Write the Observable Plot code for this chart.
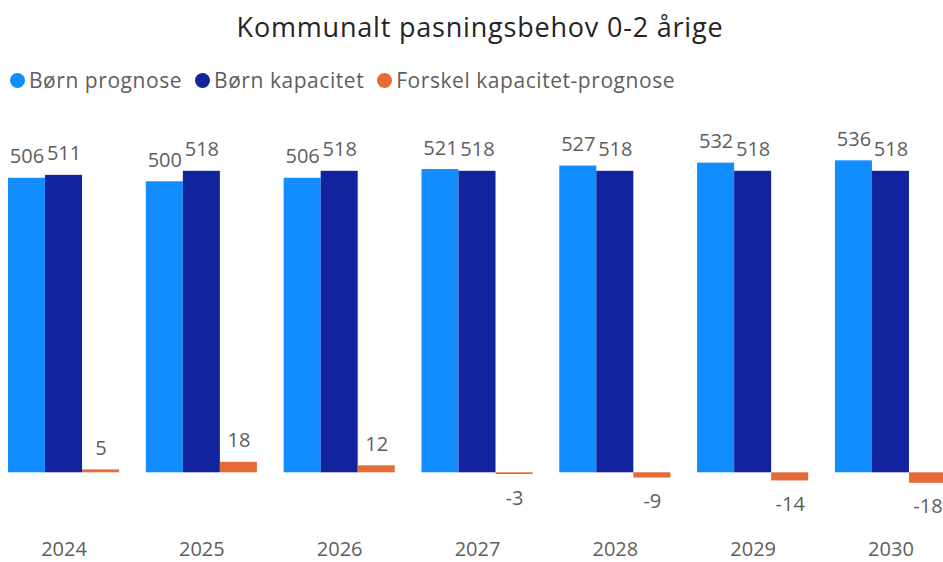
<!DOCTYPE html>
<html><head><meta charset="utf-8">
<script src="https://cdn.jsdelivr.net/npm/d3@7"></script>
<script src="https://cdn.jsdelivr.net/npm/@observablehq/plot@0.6"></script>
<style>
body{margin:0;background:#fff;width:943px;height:562px;overflow:hidden;font-family:"Open Sans",sans-serif;}
#header{position:relative;height:100px;}
#title{position:absolute;left:0;right:0;top:13px;padding-left:17px;text-align:center;font-size:27px;letter-spacing:0.8px;line-height:1;color:#252423;white-space:nowrap;}
#legend{position:absolute;left:10px;top:70px;display:flex;align-items:center;font-size:21px;letter-spacing:0.55px;line-height:1;color:#605E5C;white-space:nowrap;}
.item{display:flex;align-items:center;margin-right:13px}
.dot{width:15px;height:15px;border-radius:50%;margin-right:4px}
#chart svg{display:block}
</style>
</head><body>
<div id="header">
  <div id="title">Kommunalt pasningsbehov 0-2 årige</div>
  <div id="legend"></div>
</div>
<div id="chart"></div>
<script>
const years = ["2024","2025","2026","2027","2028","2029","2030"];
const series = ["Børn prognose","Børn kapacitet","Forskel kapacitet-prognose"];
const prognose = [506,500,506,521,527,532,536];
const kapacitet = [511,518,518,518,518,518,518];
const forskel = [5,18,12,-3,-9,-14,-18];
const colors = ["#118DFF","#12239E","#E66C37"];

const values = [prognose, kapacitet, forskel];
const data = years.flatMap((y,i)=>series.map((s,j)=>({year:y, series:s, value:values[j][i]})));

const legend = document.getElementById("legend");
series.forEach((s,i)=>{
  const it = document.createElement("div"); it.className="item";
  const dot = document.createElement("span"); dot.className="dot"; dot.style.background=colors[i];
  const t = document.createElement("span"); t.textContent = s;
  it.append(dot,t); legend.append(it);
});

const chart = Plot.plot({
  width:943, height:462, marginLeft:8, marginRight:-3, marginTop:0, marginBottom:30,
  style:{fontFamily:'"Open Sans", sans-serif', fontSize:"20px", color:"#605E5C", background:"transparent"},
  fx:{domain:years, paddingInner:0.194, paddingOuter:0, round:false, label:null, axis:null},
  x:{domain:series, padding:0, round:false, axis:null},
  y:{domain:[0,518], range:[372.3,70.8], axis:null},
  color:{domain:series, range:colors},
  marks:[
    Plot.barY(data,{fx:"year",x:"series",y:"value",fill:"series"}),
    Plot.text(data.filter(d=>d.value>=0),{fx:"year",x:"series",y:"value",text:d=>String(d.value),lineAnchor:"bottom",dy:-15,fill:"#605E5C"}),
    Plot.text(data.filter(d=>d.value<0),{fx:"year",x:"series",y:"value",text:d=>String(d.value),lineAnchor:"top",dy:16,fill:"#605E5C"}),
    Plot.axisFx({anchor:"bottom",tickSize:0,tickPadding:9,label:null,fill:"#605E5C"})
  ]
});
document.getElementById("chart").append(chart);
</script>
</body></html>
